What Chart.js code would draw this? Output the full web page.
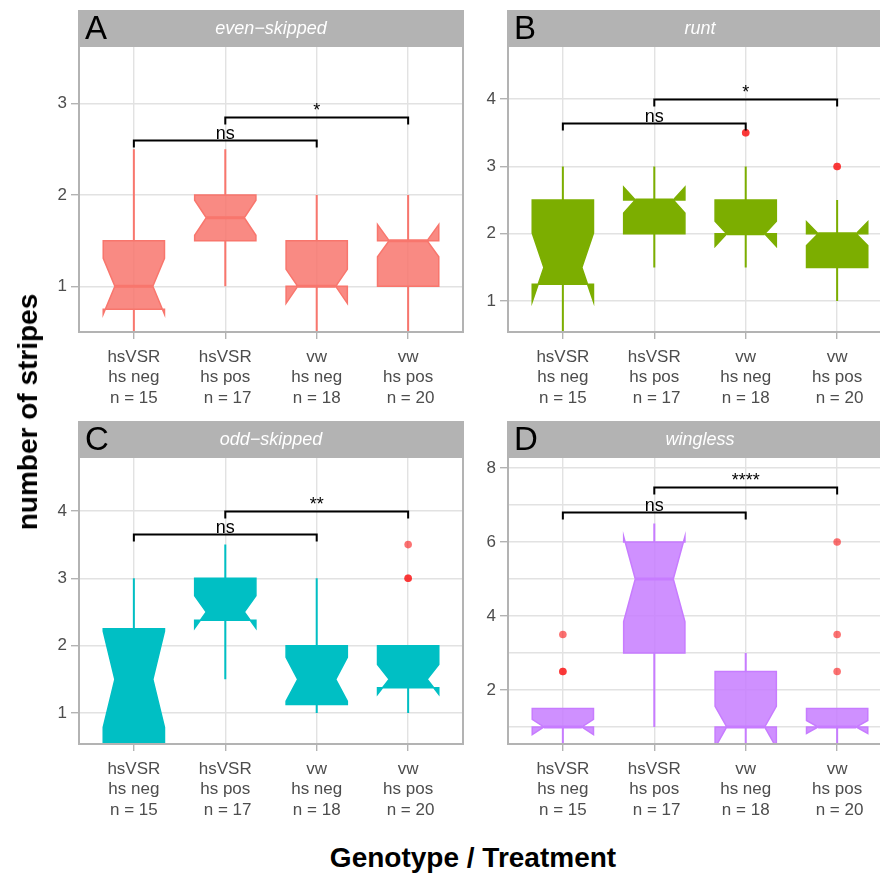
<!DOCTYPE html>
<html>
<head>
<meta charset="utf-8">
<script src="https://cdn.jsdelivr.net/npm/chart.js@4.4.1/dist/chart.umd.min.js"></script>
<style>
  body { margin: 0; background: #fff; overflow: hidden; }
  #wrap { position: relative; width: 880px; height: 874px; overflow: hidden; font-family: 'Liberation Sans', Arial, sans-serif; }
  canvas { position: absolute; }
  .axisTitle { position: absolute; font-weight: bold; font-size: 28px; color: #000; white-space: nowrap; }
</style>
</head>
<body>
<div id="wrap">
  <canvas id="panelA" width="470" height="420" style="left:0px;top:0px"></canvas>
  <canvas id="panelB" width="470" height="420" style="left:429px;top:0px"></canvas>
  <canvas id="panelC" width="470" height="421" style="left:0px;top:411px"></canvas>
  <canvas id="panelD" width="470" height="421" style="left:429px;top:411px"></canvas>
  <div class="axisTitle" style="left:28px;top:412px;transform:translate(-50%,-50%) rotate(-90deg)">number of stripes</div>
  <div class="axisTitle" style="left:473px;top:858px;transform:translate(-50%,-50%)">Genotype / Treatment</div>
</div>
<script>
// groups shared by all four panels
const groupLabels = [
    ['hsVSR', 'hs neg', 'n = 15'],
    ['hsVSR', 'hs pos', ' n = 17'],
    ['vw', 'hs neg', 'n = 18'],
    ['vw', 'hs pos', ' n = 20']
];
const groupN = [15, 17, 18, 20];

// A: even-skipped
const lowA = [0.5, 1.0, 0.5, 0.5];
const q1A = [0.75, 1.5, 1.0, 1.0];
const medA = [1.0, 1.75, 1.0, 1.5];
const q3A = [1.5, 2.0, 1.5, 1.5];
const highA = [2.5, 2.5, 2.0, 2.0];
const outA = [[], [], [], []];

// B: runt
const lowB = [0.5, 1.5, 1.5, 1.0];
const q1B = [1.25, 2.0, 2.0, 1.5];
const medB = [1.5, 2.5, 2.0, 2.0];
const q3B = [2.5, 2.5, 2.5, 2.0];
const highB = [3.0, 3.0, 3.0, 2.5];
const outB = [[], [], [3.5, 3.5], [3.0, 3.0]];

// C: odd-skipped
const lowC = [0.5, 1.5, 1.0, 1.0];
const q1C = [0.5, 2.375, 1.125, 1.375];
const medC = [1.5, 2.5, 1.5, 1.5];
const q3C = [2.25, 3.0, 2.0, 2.0];
const highC = [3.0, 3.5, 3.0, 2.0];
const outC = [[], [], [], [3.0, 3.0, 3.5]];

// D: wingless
const lowD = [0.5, 1.0, 0.5, 0.5];
const q1D = [1.0, 3.0, 1.0, 1.0];
const medD = [1.0, 5.0, 1.0, 1.0];
const q3D = [1.5, 6.0, 2.5, 1.5];
const highD = [1.5, 6.5, 3.0, 1.5];
const outD = [[2.5, 2.5, 3.5], [], [], [2.5, 3.5, 6.0]];

// significance brackets: [from group, to group, y, label]
const bracketsA = [[0, 2, 2.6, 'ns'], [1, 3, 2.85, '*']];
const bracketsB = [[0, 2, 3.65, 'ns'], [1, 3, 4.0, '*']];
const bracketsC = [[0, 2, 3.65, 'ns'], [1, 3, 4.0, '**']];
const bracketsD = [[0, 2, 6.8, 'ns'], [1, 3, 7.5, '****']];

const yTicksA = [1, 2, 3];
const yTicksB = [1, 2, 3, 4];
const yTicksC = [1, 2, 3, 4];
const yTicksD = [1, 2, 3, 4, 5, 6, 7, 8];
const yRangeA = [0.5, 3.63];
const yRangeB = [0.54, 4.79];
const yRangeC = [0.54, 4.8];
const yRangeD = [0.54, 8.3];

const fontFamily = "'Liberation Sans', Arial, sans-serif";
const gridColor = '#e2e2e2';
const frameColor = '#b3b3b3';

const boxPlugin = {
    id: 'notchedBoxes',
    beforeDraw(chart) {
        const p = chart.options.plugins.notchedBoxes;
        const {ctx, chartArea} = chart;
        ctx.save();
        // strip on top of the panel
        ctx.fillStyle = '#b3b3b3';
        ctx.fillRect(chartArea.left - 1, chartArea.top - 36, chartArea.right - chartArea.left + 2, 36);
        ctx.fillStyle = '#000';
        ctx.font = '33px ' + fontFamily;
        ctx.textAlign = 'left';
        ctx.textBaseline = 'alphabetic';
        ctx.fillText(p.letter, chartArea.left + 6, chartArea.top - 7);
        ctx.fillStyle = '#fff';
        ctx.font = 'italic 18px ' + fontFamily;
        ctx.textAlign = 'center';
        ctx.fillText(p.gene, (chartArea.left + chartArea.right) / 2, chartArea.top - 12);
        ctx.restore();
    },
    beforeDatasetsDraw(chart) {
        const p = chart.options.plugins.notchedBoxes;
        const {ctx, chartArea, scales} = chart;
        const x = scales.x, y = scales.y;
        ctx.save();
        ctx.beginPath();
        ctx.rect(chartArea.left, chartArea.top, chartArea.right - chartArea.left, chartArea.bottom - chartArea.top);
        ctx.clip();
        p.med.forEach((med, i) => {
            const cx = x.getPixelForValue(i);
            const half = x.getPixelForValue(i + 0.335) - cx;
            const indent = half * 0.38;
            const notch = 1.58 * (p.q3[i] - p.q1[i]) / Math.sqrt(groupN[i]);
            const yq1 = y.getPixelForValue(p.q1[i]);
            const yq3 = y.getPixelForValue(p.q3[i]);
            const ym = y.getPixelForValue(med);
            const ynu = y.getPixelForValue(med + notch);
            const ynl = y.getPixelForValue(med - notch);
            // whiskers
            ctx.strokeStyle = p.line;
            ctx.lineWidth = 2;
            ctx.beginPath();
            ctx.moveTo(cx, yq3);
            ctx.lineTo(cx, y.getPixelForValue(p.high[i]));
            ctx.moveTo(cx, yq1);
            ctx.lineTo(cx, y.getPixelForValue(p.low[i]));
            ctx.stroke();
            // notched box
            ctx.beginPath();
            ctx.moveTo(cx - half, yq3);
            ctx.lineTo(cx - half, ynu);
            ctx.lineTo(cx - half + indent, ym);
            ctx.lineTo(cx - half, ynl);
            ctx.lineTo(cx - half, yq1);
            ctx.lineTo(cx + half, yq1);
            ctx.lineTo(cx + half, ynl);
            ctx.lineTo(cx + half - indent, ym);
            ctx.lineTo(cx + half, ynu);
            ctx.lineTo(cx + half, yq3);
            ctx.closePath();
            ctx.fillStyle = p.fill;
            ctx.fill();
            ctx.lineWidth = 1.5;
            ctx.lineJoin = 'miter';
            ctx.stroke();
            // median
            ctx.lineWidth = 3;
            ctx.beginPath();
            ctx.moveTo(cx - half + indent, ym);
            ctx.lineTo(cx + half - indent, ym);
            ctx.stroke();
        });
        ctx.restore();
    },
    afterDatasetsDraw(chart) {
        const p = chart.options.plugins.notchedBoxes;
        const {ctx, scales} = chart;
        const x = scales.x, y = scales.y;
        ctx.save();
        ctx.strokeStyle = '#000';
        ctx.fillStyle = '#000';
        ctx.lineWidth = 2;
        ctx.font = '18px ' + fontFamily;
        ctx.textAlign = 'center';
        ctx.textBaseline = 'alphabetic';
        p.brackets.forEach(([from, to, yv, label]) => {
            const x1 = x.getPixelForValue(from);
            const x2 = x.getPixelForValue(to);
            const yy = Math.round(y.getPixelForValue(yv)) + 0.5;
            ctx.beginPath();
            ctx.moveTo(x1, yy + 7);
            ctx.lineTo(x1, yy);
            ctx.lineTo(x2, yy);
            ctx.lineTo(x2, yy + 7);
            ctx.stroke();
            ctx.fillText(label, x.getPixelForValue((from + to) / 2), yy - 2);
        });
        ctx.restore();
    },
    afterDraw(chart) {
        const {ctx, chartArea} = chart;
        ctx.save();
        ctx.strokeStyle = frameColor;
        ctx.lineWidth = 2;
        ctx.strokeRect(chartArea.left, chartArea.top, chartArea.right - chartArea.left, chartArea.bottom - chartArea.top);
        ctx.restore();
    }
};

function makePanel(canvasId, letter, gene, color, fill, low, q1, med, q3, high, outliers, brackets, yTicks, yRange, labelEvery) {
    const points = [];
    outliers.forEach((vals, i) => vals.forEach(v => points.push({x: i, y: v})));
    return new Chart(document.getElementById(canvasId), {
        type: 'scatter',
        data: {
            datasets: [{
                data: points,
                pointRadius: 3.8,
                pointBackgroundColor: 'rgba(250,20,20,0.6)',
                pointBorderWidth: 0,
                pointHoverRadius: 3.8
            }]
        },
        options: {
            responsive: false,
            animation: false,
            devicePixelRatio: 1,
            events: [],
            layout: { padding: { top: 46, right: 7, left: 0, bottom: 0 } },
            plugins: {
                legend: { display: false },
                tooltip: { enabled: false },
                notchedBoxes: { letter, gene, line: color, fill, low, q1, med, q3, high, brackets }
            },
            scales: {
                x: {
                    type: 'linear',
                    min: -0.6,
                    max: 3.6,
                    afterBuildTicks: (scale) => { scale.ticks = groupLabels.map((l, i) => ({value: i})); },
                    afterFit: (scale) => { scale.height = 88; },
                    ticks: {
                        callback: (v) => groupLabels[v],
                        color: '#4d4d4d',
                        font: { family: fontFamily, size: 17, lineHeight: 1.2 },
                        padding: 8,
                        maxRotation: 0,
                        minRotation: 0,
                        autoSkip: false
                    },
                    grid: { color: gridColor, lineWidth: 1.4, tickColor: frameColor, tickLength: 7 },
                    border: { display: false }
                },
                y: {
                    min: yRange[0],
                    max: yRange[1],
                    afterBuildTicks: (scale) => { scale.ticks = yTicks.map(v => ({value: v})); },
                    afterFit: (scale) => { scale.width = 79; },
                    ticks: {
                        callback: (v) => (v % labelEvery === 0 ? v : ''),
                        color: '#4d4d4d',
                        font: { family: fontFamily, size: 17 },
                        padding: 4
                    },
                    grid: {
                        color: gridColor,
                        lineWidth: 1.4,
                        tickColor: (c) => (c.tick && c.tick.value % labelEvery === 0 ? frameColor : 'rgba(0,0,0,0)'),
                        tickLength: 8
                    },
                    border: { display: false }
                }
            }
        },
        plugins: [boxPlugin]
    });
}

makePanel('panelA', 'A', 'even−skipped', '#f8766d', 'rgba(248,118,109,0.85)',
    lowA, q1A, medA, q3A, highA, outA, bracketsA, yTicksA, yRangeA, 1);
makePanel('panelB', 'B', 'runt', '#7cae00', '#7cae00',
    lowB, q1B, medB, q3B, highB, outB, bracketsB, yTicksB, yRangeB, 1);
makePanel('panelC', 'C', 'odd−skipped', '#00bfc4', '#00bfc4',
    lowC, q1C, medC, q3C, highC, outC, bracketsC, yTicksC, yRangeC, 1);
makePanel('panelD', 'D', 'wingless', '#c77cff', 'rgba(199,124,255,0.85)',
    lowD, q1D, medD, q3D, highD, outD, bracketsD, yTicksD, yRangeD, 2);
</script>
</body>
</html>
